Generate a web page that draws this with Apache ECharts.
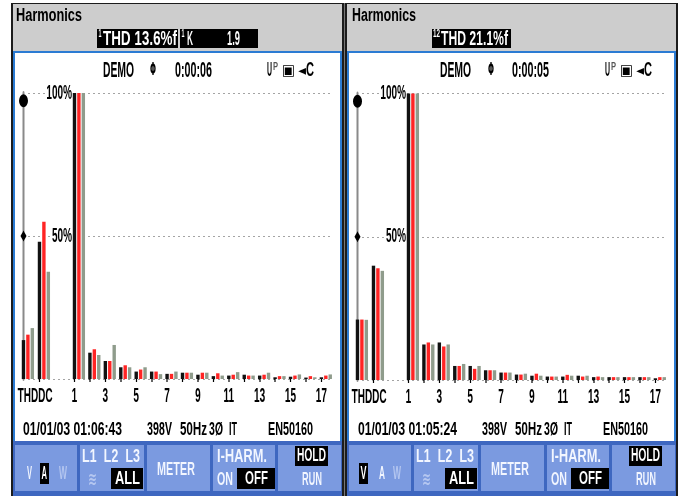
<!DOCTYPE html>
<html>
<head>
<meta charset="utf-8">
<script src="https://cdn.jsdelivr.net/npm/echarts@6/dist/echarts.min.js"></script>
<style>
  html, body { margin: 0; padding: 0; overflow: hidden; background: #fff; width: 686px; height: 496px; }
  /* The analyzer font is tall and narrow: the chart is laid out twice as wide and squeezed horizontally. */
  #chart { width: 1372px; height: 496px; transform: scaleX(0.5); transform-origin: 0 0; }
</style>
</head>
<body>
<div id="chart"></div>
<script>
// ---- Spectrum data (% of fundamental) ----
const harmonicOrders = [1, 2, 3, 4, 5, 6, 7, 8, 9, 10, 11, 12, 13, 14, 15, 16, 17];
const labelledOrders = [1, 3, 5, 7, 9, 11, 13, 15, 17];
const phaseNames = ['L1', 'L2', 'L3'];

// Left screen: current (A)
const ampTHD = [13.6, 15.5, 17.8];
const ampDC = [48.0, 55.0, 37.5];
const ampL1 = [100, 9.2, 6.3, 4.1, 2.6, 2.6, 1.8, 2.2, 1.5, 1.0, 1.2, 1.5, 1.2, 0.6, 0.8, 0.5, 0.6];
const ampL2 = [100, 10.4, 6.3, 4.8, 3.3, 2.6, 1.8, 2.2, 2.2, 2.0, 1.5, 1.2, 1.5, 1.0, 1.2, 1.0, 1.2];
const ampL3 = [100, 8.4, 11.9, 4.1, 4.1, 1.7, 2.6, 2.2, 2.2, 1.2, 2.4, 1.2, 2.2, 1.0, 1.6, 0.6, 1.6];

// Right screen: voltage (V)
const voltTHD = [21.1, 21.1, 21.0];
const voltDC = [39.9, 39.0, 38.1];
const voltL1 = [100, 12.4, 13.1, 4.9, 4.9, 3.4, 2.6, 1.9, 1.5, 1.2, 1.2, 1.5, 1.0, 1.0, 1.0, 1.0, 0.6];
const voltL2 = [100, 13.1, 11.7, 4.9, 3.9, 3.4, 2.6, 1.9, 2.2, 1.2, 1.8, 1.2, 1.2, 1.0, 1.0, 1.0, 1.0];
const voltL3 = [100, 12.4, 12.4, 5.6, 4.9, 3.4, 2.6, 2.2, 1.5, 1.2, 1.5, 1.5, 1.0, 1.0, 1.0, 1.0, 1.0];

const yTicks = [0, 50, 100];

// ---- Layout ----
const S = 0.5;                 // horizontal squeeze applied by CSS
const X = v => v / S;          // screen x -> canvas x
const THD_SLOT = -2.305;       // axis positions of the THD and DC groups
const DC_SLOT = -1.268;
const X_MIN = -2.59;
const X_MAX = 17.4;
const BAR_W = 3.4;
const FONT = '"Liberation Sans", Arial, sans-serif';
const SYM = '"DejaVu Sans", sans-serif';
const PHASE_COLORS = ['#111111', '#ff2424', '#8f9c8c'];

const measureCtx = document.createElement('canvas').getContext('2d');
function measure(str, size, family, weight) {
  measureCtx.font = weight + ' ' + size + 'px ' + family;
  return measureCtx.measureText(str).width;
}
// text squeezed to span screen x0..x1, vertically centred on yc
function txt(str, x0, x1, yc, size, fill, opt) {
  opt = opt || {};
  const family = opt.family || FONT;
  const weight = opt.weight || 'bold';
  const w = measure(str, size, family, weight);
  return {
    type: 'text', x: X(x0), y: yc, scaleX: X(x1 - x0) / w, z: 10, silent: true,
    style: { text: str, fontFamily: family, fontSize: size, fontWeight: weight, fill: fill,
             align: 'left', verticalAlign: 'middle' }
  };
}
function box(x0, y0, x1, y1, fill, z) {
  return { type: 'rect', z: z || 1, silent: true,
           shape: { x: X(x0), y: y0, width: X(x1 - x0), height: y1 - y0 }, style: { fill: fill } };
}

const C = {
  frame: '#1c1c1c', header: '#cdcdcd', border: '#2b7bd3',
  menuBg: '#3e67c0', button: '#7b9ae0', menuText: '#f2f6ff', faint: '#b4c6f0'
};

// header, blue frame round the plot area and the soft-key strip
function panelFrame(x0, x1) {
  return [
    box(x0, 4, x1, 51, C.header),
    box(x0, 51, x1, 53, C.border),
    box(x0, 53, x0 + 2, 441, C.border),
    box(x1 - 2, 53, x1, 441, C.border),
    box(x0, 441, x1, 496, C.menuBg)
  ];
}

function menu(ox, vActive) {
  const els = [];
  const buttons = [[15, 77], [80, 144], [147, 210], [213, 275], [278, 341]];
  buttons.forEach(b => els.push(box(b[0] + ox, 445, b[1] + ox, 491, C.button, 2)));
  // V / A / W selector
  if (vActive) {
    els.push(box(359, 463, 368, 484, '#000', 3));
    els.push(txt('V', 360.5, 366.5, 473.5, 19, '#fff'));
    els.push(txt('A', 379, 385, 473.5, 19, C.menuText));
  } else {
    els.push(txt('V', 27, 32, 473.5, 19, C.menuText));
    els.push(box(40, 463, 49, 484, '#000', 3));
    els.push(txt('A', 41.5, 47, 473.5, 19, '#fff'));
  }
  els.push(txt('W', 59 + ox, 67 + ox, 473.5, 19, C.faint));
  // phase selector
  els.push(txt('L1  L2  L3', 82 + ox, 140 + ox, 457.5, 18, C.menuText));
  els.push(txt('≋', 88 + ox, 97 + ox, 480, 18, C.faint, { family: SYM }));
  els.push(box(111 + ox, 468, 143 + ox, 489, '#000', 3));
  els.push(txt('ALL', 115 + ox, 140 + ox, 479, 18, '#fff'));
  // meter
  els.push(txt('METER', 157 + ox, 195 + ox, 470, 18, C.menuText));
  // interharmonics
  els.push(txt('I-HARM.', 217 + ox, 267 + ox, 457.5, 18, C.menuText));
  els.push(txt('ON', 217 + ox, 233 + ox, 480, 18, C.menuText));
  els.push(box(237 + ox, 468, 275 + ox, 489, '#000', 3));
  els.push(txt('OFF', 245 + ox, 268 + ox, 479, 18, '#fff'));
  // hold / run
  els.push(box(295 + ox, 446, 328 + ox, 466, '#000', 3));
  els.push(txt('HOLD', 297 + ox, 326 + ox, 456, 18, '#fff'));
  els.push(txt('RUN', 302 + ox, 322 + ox, 480, 18, C.menuText));
  return els;
}

function statusLine(p) {
  return [
    txt('DEMO', p.demo, p.demo + 31, 70.5, 22, '#000'),
    txt('Φ', p.clock, p.clock + 6, 70, 18, '#000', { family: SYM }),
    txt(p.elapsed, p.time, p.time + 37, 70.5, 22, '#000'),
    txt('U', p.u, p.u + 5, 70.5, 20, '#000'),
    txt('P', p.u + 6, p.u + 11, 67, 11, '#555'),
    txt('▣', p.u + 15, p.u + 28, 71, 15, '#000', { family: SYM }),
    txt('◄', p.u + 31, p.u + 39, 71, 14, '#000', { family: SYM }),
    txt('C', p.u + 39, p.u + 47, 70.5, 20, '#000')
  ];
}

function footerLine(p) {
  return [
    txt(p.stamp, p.x, p.x + 99, 430, 19, '#000'),
    txt('398V', p.x + 124, p.x + 149, 430, 19, '#000'),
    txt('50Hz', p.x + 157, p.x + 184, 430, 19, '#000'),
    txt('3Ø', p.x + 186, p.x + 200, 430, 19, '#000'),
    txt('IT', p.x + 206, p.x + 214, 430, 19, '#000'),
    txt('EN50160', p.x + 245, p.x + 290, 430, 19, '#000')
  ];
}

const graphics = [].concat(
  // outer frame
  [box(11, 3, 678, 5, C.frame), box(11, 3, 13, 496, C.frame),
   box(342, 3, 347, 496, C.frame), box(344, 3, 345, 496, '#777', 2), box(676, 3, 678, 496, C.frame)],
  panelFrame(13, 342), panelFrame(347, 676),
  // left header
  [txt('Harmonics', 16, 82, 16.5, 18, '#000'),
   box(97, 29, 178, 48, '#000', 3),
   txt('1', 98.5, 101.5, 34.5, 10, '#fff'),
   txt('THD 13.6%f', 103, 177, 39.5, 20, '#fff'),
   box(180, 29, 258, 48, '#000', 3),
   txt('1', 181.5, 184.5, 34.5, 10, '#fff'),
   txt('K', 187, 193, 39.5, 20, '#fff'),
   txt('1.9', 227, 240, 39.5, 20, '#fff')],
  // right header
  [txt('Harmonics', 352, 416, 16.5, 18, '#000'),
   box(432, 29, 511, 48, '#000', 3),
   txt('12', 433, 440, 34.5, 10, '#fff'),
   txt('THD 21.1%f', 441, 508, 39.5, 20, '#fff')],
  statusLine({ demo: 103, clock: 150, time: 175, elapsed: '0:00:06', u: 267 }),
  statusLine({ demo: 440, clock: 488, time: 512, elapsed: '0:00:05', u: 605 }),
  footerLine({ x: 23, stamp: '01/01/03 01:06:43' }),
  footerLine({ x: 358, stamp: '01/01/03 01:05:24' }),
  menu(0, false), menu(334, true)
);

// ---- Axes ----
const grids = [
  { left: X(23.5), right: 1372 - X(332), top: 93, bottom: 117 },
  { left: X(357.5), right: 1372 - X(666), top: 93.5, bottom: 116 }
];

function xLabel(v) {
  if (Math.abs(v - THD_SLOT) < 0.01) return '{t|THD}';
  if (Math.abs(v - DC_SLOT) < 0.01) return '{d|DC}';
  return '{n|' + Math.round(v) + '}';
}
const labelFont = { fontSize: 20, fontWeight: 'bold', fontFamily: FONT, color: '#000' };
const slotOffset = (BAR_W * 1.3) / 15.43;   // black bar sits left of each group centre
const allSlots = [THD_SLOT, DC_SLOT].concat(harmonicOrders);

function xAxis(i) {
  return {
    gridIndex: i, type: 'value', min: X_MIN, max: X_MAX,
    axisLine: { show: false, onZero: false }, splitLine: { show: false },
    axisTick: { show: true, length: 3, customValues: allSlots.map(v => v - slotOffset),
                lineStyle: { color: '#000', width: X(1.2) } },
    axisLabel: Object.assign({
      margin: 7,
      customValues: [THD_SLOT, DC_SLOT].concat(labelledOrders),
      formatter: xLabel,
      rich: {
        t: Object.assign({}, labelFont),
        d: Object.assign({ padding: [0, 0, 0, X(3)] }, labelFont),
        n: Object.assign({ padding: [0, X(9), 0, 0] }, labelFont)
      }
    }, labelFont)
  };
}
function yAxis(i) {
  return {
    gridIndex: i, type: 'value', min: yTicks[0], max: yTicks[yTicks.length - 1], interval: yTicks[1] - yTicks[0],
    axisLine: { show: true, onZero: false, lineStyle: { color: '#8a8a8a', width: X(2) } },
    axisTick: { show: false },
    splitLine: { show: true, lineStyle: { color: '#4a4a4a', width: 1, type: [X(1), X(4)] } },
    axisLabel: Object.assign({
      inside: true, align: 'right', margin: X(48.5), backgroundColor: '#fff',
      formatter: v => (v === 0 ? '' : v + '%')
    }, labelFont)
  };
}

function barSeries(gridIdx, phase, thd, dc, values) {
  const data = [[THD_SLOT, thd], [DC_SLOT, dc]].concat(harmonicOrders.map((h, k) => [h, values[k]]));
  const s = {
    type: 'bar', name: phaseNames[phase], xAxisIndex: gridIdx, yAxisIndex: gridIdx,
    data: data, barWidth: X(BAR_W), barGap: '30%', clip: false, silent: true,
    itemStyle: { color: PHASE_COLORS[phase] }
  };
  if (phase === 1) {
    // scale cursor markers on the left edge (middle series has no bar offset)
    s.markPoint = {
      silent: true, label: { show: false }, itemStyle: { color: '#000' },
      data: [
        { coord: [X_MIN, 97.3], symbol: 'circle', symbolSize: [X(9), 13] },
        { coord: [X_MIN, 50], symbol: 'diamond', symbolSize: [X(6), 11] }
      ]
    };
  }
  return s;
}

const series = [
  barSeries(0, 0, ampTHD[0], ampDC[0], ampL1),
  barSeries(0, 1, ampTHD[1], ampDC[1], ampL2),
  barSeries(0, 2, ampTHD[2], ampDC[2], ampL3),
  barSeries(1, 0, voltTHD[0], voltDC[0], voltL1),
  barSeries(1, 1, voltTHD[1], voltDC[1], voltL2),
  barSeries(1, 2, voltTHD[2], voltDC[2], voltL3)
];

const chart = echarts.init(document.getElementById('chart'), null, { renderer: 'canvas' });
chart.setOption({
  animation: false,
  backgroundColor: '#ffffff',
  grid: grids,
  xAxis: [xAxis(0), xAxis(1)],
  yAxis: [yAxis(0), yAxis(1)],
  series: series,
  graphic: [{ type: 'group', z: -1, children: graphics }]
});
</script>
</body>
</html>
